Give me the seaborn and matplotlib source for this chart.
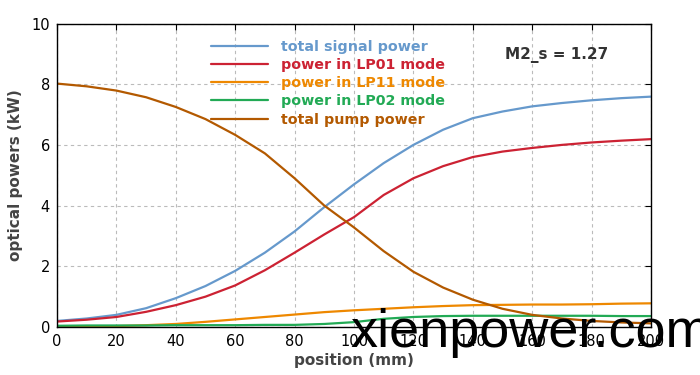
import matplotlib
matplotlib.use("Agg")
import matplotlib.pyplot as plt
import seaborn as sns
import pandas as pd

position = [0, 10, 20, 30, 40, 50, 60, 70, 80, 90, 100, 110, 120, 130, 140, 150, 160, 170, 180, 190, 200]
total_signal = [0.20, 0.28, 0.40, 0.62, 0.95, 1.35, 1.85, 2.45, 3.15, 3.95, 4.70, 5.40, 6.00, 6.50, 6.88, 7.10, 7.27, 7.38, 7.47, 7.54, 7.59]
lp01 = [0.18, 0.24, 0.33, 0.50, 0.72, 1.00, 1.37, 1.87, 2.45, 3.05, 3.62, 4.35, 4.90, 5.30, 5.60, 5.78, 5.90, 6.00, 6.08, 6.14, 6.19]
lp11 = [0.00, 0.01, 0.03, 0.06, 0.10, 0.17, 0.25, 0.33, 0.41, 0.49, 0.55, 0.60, 0.65, 0.69, 0.72, 0.73, 0.74, 0.74, 0.75, 0.77, 0.78]
lp02 = [0.04, 0.05, 0.05, 0.05, 0.06, 0.06, 0.06, 0.07, 0.07, 0.10, 0.16, 0.27, 0.33, 0.36, 0.37, 0.37, 0.37, 0.37, 0.37, 0.36, 0.36]
pump = [8.02, 7.93, 7.79, 7.57, 7.25, 6.85, 6.33, 5.72, 4.90, 4.00, 3.28, 2.50, 1.82, 1.30, 0.90, 0.60, 0.40, 0.28, 0.20, 0.15, 0.12]

series_names = ["total signal power", "power in LP01 mode", "power in LP11 mode",
                "power in LP02 mode", "total pump power"]
series_values = [total_signal, lp01, lp11, lp02, pump]
colors = ["#6699cc", "#cc2233", "#ee8800", "#22aa55", "#b35900"]

sns.set_style("white")
plt.rcParams['font.family'] = ['DejaVu Sans']

fig = plt.figure(figsize=(7, 3.75), dpi=100)
ax = fig.add_axes([57/700, 48/375, (651-57)/700, (327-23.5)/375])

for name, vals, c in zip(series_names, series_values, colors):
    df = pd.DataFrame({"position": position, "power": vals})
    sns.lineplot(data=df, x="position", y="power", color=c, lw=1.6, label=name, ax=ax)

ax.set_xlim(0, 200)
ax.set_ylim(0, 10)
ax.set_xticks(range(0, 201, 20))
ax.set_yticks(range(0, 11, 2))
ax.grid(True, ls=(0, (3, 3)), color="#bbbbbb", lw=0.8)
for s in ax.spines.values():
    s.set_color("black")
    s.set_linewidth(1.0)
ax.tick_params(direction="in", length=4, top=True, right=True, labelsize=10.5, colors="black", pad=5)
ax.set_xlabel("position (mm)", fontsize=11, fontweight="bold", color="#444444", labelpad=3)
ax.set_ylabel("optical powers (kW)", fontsize=11, fontweight="bold", color="#444444", labelpad=6)

leg = ax.legend(loc="upper left", bbox_to_anchor=(138/594, 1.0), frameon=False,
                handlelength=4.0, handletextpad=0.9, labelspacing=0.3,
                prop={"weight": "bold", "size": 10.3}, labelcolor="linecolor",
                borderaxespad=0.72)

ax.text(557/700, (375-55)/375, "M2_s = 1.27", transform=fig.transFigure, ha="center", va="center",
        fontsize=11, fontweight="bold", color="#333333")

fig.text(350/700, (375-347)/375, "xienpower.com", ha="left", va="baseline",
         fontsize=39, color="black", family="Liberation Sans")

fig.savefig("out.png", dpi=100)
